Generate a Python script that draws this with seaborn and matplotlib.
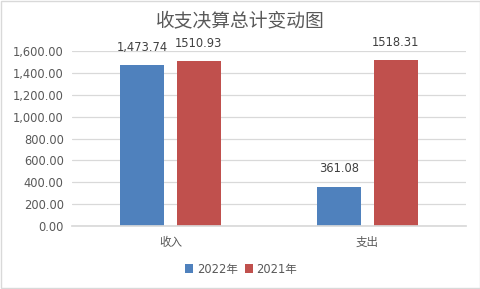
import matplotlib
matplotlib.use("Agg")
import matplotlib.pyplot as plt
import seaborn as sns
import pandas as pd
from matplotlib.patches import Rectangle

categories = ["收入", "支出"]
series_names = ["2022年", "2021年"]
values_2022 = [1473.74, 361.08]
values_2021 = [1510.93, 1518.31]
labels_2022 = ["1,473.74", "361.08"]
labels_2021 = ["1510.93", "1518.31"]
y_ticks = [0, 200, 400, 600, 800, 1000, 1200, 1400, 1600]
title = "收支决算总计变动图"

df = pd.DataFrame({
    "category": categories * 2,
    "series": [series_names[0]] * 2 + [series_names[1]] * 2,
    "value": values_2022 + values_2021,
})

sns.set_theme(style="white")
plt.rcParams["font.family"] = ["DejaVu Sans", "Noto Sans CJK SC"]

fig = plt.figure(figsize=(4.81, 2.89), dpi=100)
ax = fig.add_axes([72/481, 1-226/289, (466-72)/481, (226-51)/289])

palette = {"2022年": "#4F81BD", "2021年": "#C0504D"}
sns.barplot(data=df, x="category", y="value", hue="series", order=categories,
            hue_order=series_names, palette=palette, width=0.57, gap=0.217,
            saturation=1, ax=ax, legend=True, linewidth=0, edgecolor="none")

ax.set_ylim(0, 1600)
ax.set_xlim(-0.5, 1.5)
ax.set_yticks(y_ticks)
ax.set_yticklabels([f"{v:,.2f}" for v in y_ticks])
ax.yaxis.grid(True, color="#D9D9D9", linewidth=0.9)
ax.set_axisbelow(True)
for s in ["top", "right", "left"]:
    ax.spines[s].set_visible(False)
ax.spines["bottom"].set_color("#D9D9D9")
ax.tick_params(axis="both", length=0, labelsize=8.3, colors="#595959")
ax.tick_params(axis="x", pad=7)
ax.tick_params(axis="y", pad=6)
ax.set_xlabel("")
ax.set_ylabel("")

all_labels = [labels_2022, labels_2021]
for cont, labs in zip(ax.containers, all_labels):
    ax.bar_label(cont, labels=labs, padding=8, fontsize=8.3, color="#404040")

leg = ax.legend(loc="center", bbox_to_anchor=(241/481, 1-269/289),
                bbox_transform=fig.transFigure, ncol=2, frameon=False,
                fontsize=8.3, handlelength=0.7, handleheight=0.7,
                handletextpad=0.3, columnspacing=0.6)
for t in leg.get_texts():
    t.set_color("#595959")

fig.text(0.5, 1-21/289, title, ha="center", va="center", fontsize=13.5,
         color="#595959")

fig.patches.append(Rectangle((0.002, 0.003), 0.995, 0.994, transform=fig.transFigure,
                             fill=False, edgecolor="#D9D9D9", linewidth=1))

fig.savefig("out.png", dpi=100)
